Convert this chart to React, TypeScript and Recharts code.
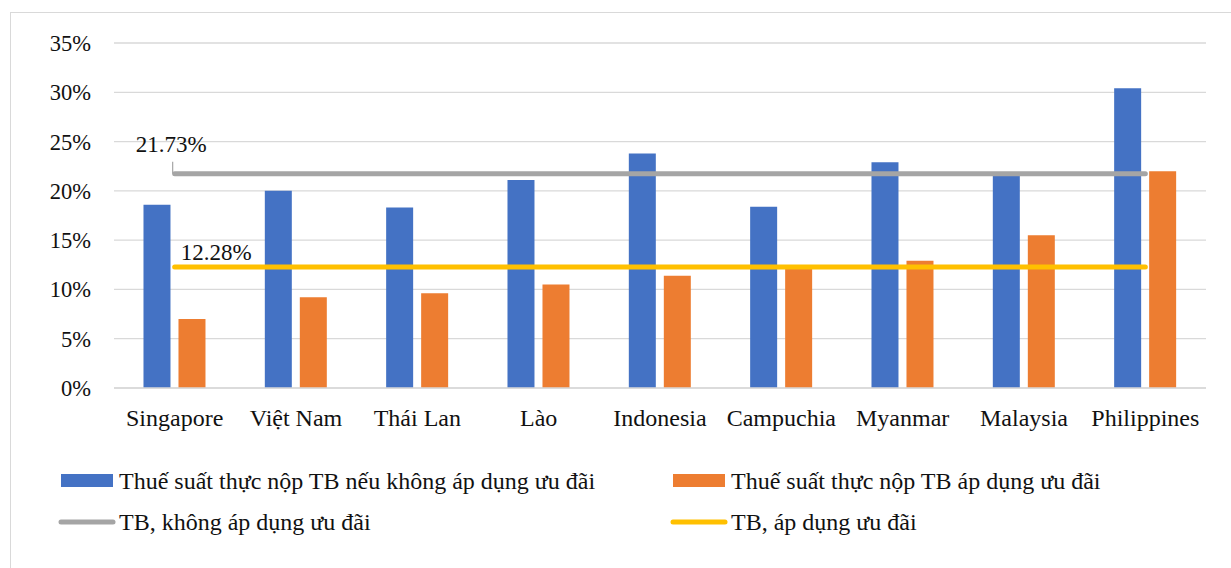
import { ComposedChart, Bar, Line, XAxis, YAxis, CartesianGrid, Legend } from "recharts";

const countries = ["Singapore", "Việt Nam", "Thái Lan", "Lào", "Indonesia", "Campuchia", "Myanmar", "Malaysia", "Philippines"];
const rateNoIncentive = [18.6, 20.0, 18.3, 21.1, 23.8, 18.4, 22.9, 21.8, 30.4];
const rateWithIncentive = [7.0, 9.2, 9.6, 10.5, 11.4, 12.4, 12.9, 15.5, 22.0];
const avgNoIncentive = 21.73;
const avgWithIncentive = 12.28;
const yTicks = [0, 5, 10, 15, 20, 25, 30, 35];

const seriesNames = {
  noIncentive: "Thuế suất thực nộp TB nếu không áp dụng ưu đãi",
  withIncentive: "Thuế suất thực nộp TB áp dụng ưu đãi",
  avgNo: "TB, không áp dụng ưu đãi",
  avgWith: "TB, áp dụng ưu đãi",
};

const data = countries.map((name, i) => ({
  name,
  noIncentive: rateNoIncentive[i],
  withIncentive: rateWithIncentive[i],
  avgNo: avgNoIncentive,
  avgWith: avgWithIncentive,
}));

const FONT = "'Liberation Serif', 'Times New Roman', serif";
const BLUE = "#4472C4";
const ORANGE = "#ED7D31";
const GRAY = "#A5A5A5";
const GOLD = "#FFC000";
const GRID = "#D9D9D9";

// label only on the first point of each average line
const avgNoLabel = (props: any) => {
  const { x, y, value, index } = props;
  if (index !== 0) return null;
  return (
    <g>
      <path d={`M${x - 2},${y - 12} L${x - 2},${y}`} stroke={GRAY} strokeWidth={1.2} fill="none" />
      <text x={x - 39} y={y - 22} fontFamily={FONT} fontSize={23} fill="#111">
        {`${Number(value).toFixed(2)}%`}
      </text>
    </g>
  );
};

const avgWithLabel = (props: any) => {
  const { x, y, value, index } = props;
  if (index !== 0) return null;
  return (
    <text x={x + 6} y={y - 6.5} fontFamily={FONT} fontSize={23} fill="#111">
      {`${Number(value).toFixed(2)}%`}
    </text>
  );
};

const LegendBox = () => {
  const items = [
    { label: seriesNames.noIncentive, color: BLUE, kind: "rect", x: 61, y: 480.5 },
    { label: seriesNames.withIncentive, color: ORANGE, kind: "rect", x: 673, y: 480.5 },
    { label: seriesNames.avgNo, color: GRAY, kind: "line", x: 61, y: 522 },
    { label: seriesNames.avgWith, color: GOLD, kind: "line", x: 673, y: 522 },
  ];
  return (
    <svg width={1231} height={568} style={{ display: "block" }}>
      {items.map((it) => (
        <g key={it.label}>
          {it.kind === "rect" ? (
            <rect x={it.x} y={it.y - 6.5} width={52} height={13} fill={it.color} />
          ) : (
            <line x1={it.x} y1={it.y} x2={it.x + 52} y2={it.y} stroke={it.color} strokeWidth={5} strokeLinecap="round" />
          )}
          <text x={it.x + 58} y={it.y + 8} fontFamily={FONT} fontSize={24} fill="#111">
            {it.label}
          </text>
        </g>
      ))}
    </svg>
  );
};

export default function App() {
  return (
    <div style={{ position: "absolute", left: 0, top: 0, width: 1231, height: 568, overflow: "hidden", background: "#fff" }}>
      <div
        style={{
          position: "absolute",
          left: 10,
          top: 12,
          width: 1300,
          height: 700,
          borderLeft: `1.5px solid ${GRID}`,
          borderTop: `1.5px solid ${GRID}`,
        }}
      />
      <div style={{ position: "absolute", left: 0, top: 0 }}>
        <ComposedChart
          width={1231}
          height={568}
          data={data}
          margin={{ top: 43, right: 25, bottom: 150, left: 34 }}
          barCategoryGap="24.3%"
          barGap={8}
        >
          <CartesianGrid vertical={false} stroke={GRID} strokeWidth={1.3} />
          <XAxis
            dataKey="name"
            height={30}
            axisLine={{ stroke: GRID, strokeWidth: 1.3 }}
            tickLine={false}
            tickMargin={15}
            interval={0}
            tick={{ fontFamily: FONT, fontSize: 24, fill: "#111" }}
          />
          <YAxis
            width={80}
            domain={[0, 35]}
            ticks={yTicks}
            axisLine={false}
            tickLine={false}
            tickMargin={17}
            tickFormatter={(v: number) => `${v}%`}
            tick={{ fontFamily: FONT, fontSize: 22.5, fill: "#111" }}
          />
          <Legend
            layout="horizontal"
            verticalAlign="middle"
            align="center"
            wrapperStyle={{ position: "absolute", left: 0, top: 0, width: 1231, height: 568, pointerEvents: "none" }}
            content={() => <LegendBox />}
          />
          <Bar dataKey="noIncentive" name={seriesNames.noIncentive} fill={BLUE} isAnimationActive={false} />
          <Bar dataKey="withIncentive" name={seriesNames.withIncentive} fill={ORANGE} isAnimationActive={false} />
          <Line
            dataKey="avgNo"
            name={seriesNames.avgNo}
            stroke={GRAY}
            strokeWidth={5}
            strokeLinecap="round"
            dot={false}
            activeDot={false}
            label={avgNoLabel}
            isAnimationActive={false}
          />
          <Line
            dataKey="avgWith"
            name={seriesNames.avgWith}
            stroke={GOLD}
            strokeWidth={5}
            strokeLinecap="round"
            dot={false}
            activeDot={false}
            label={avgWithLabel}
            isAnimationActive={false}
          />
        </ComposedChart>
      </div>
    </div>
  );
}
